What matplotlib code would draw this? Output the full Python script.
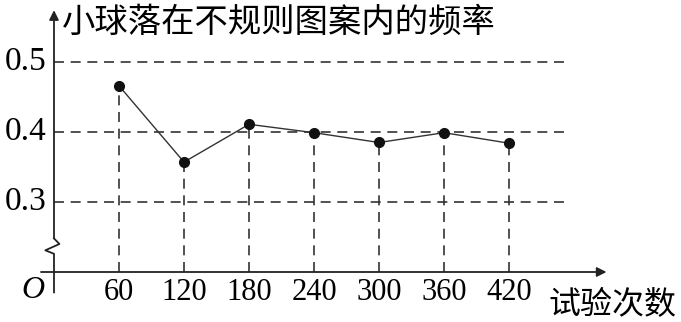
import matplotlib.pyplot as plt

# data
trials = [60, 120, 180, 240, 300, 360, 420]
freq = [0.466, 0.357, 0.411, 0.399, 0.385, 0.399, 0.384]
yticks = [0.3, 0.4, 0.5]
ytick_labels = ["0.3", "0.4", "0.5"]

cjk = ['Noto Sans CJK SC', 'DejaVu Sans']
serif = 'Liberation Serif'

fig = plt.figure(figsize=(6.81, 3.22), dpi=100)
ax = fig.add_axes([0, 0, 1, 1])
ax.axis('off')
# pixel mapping: x=0 at px 54, 60 per 65 px; y=0.5 at px 62, 0.1 per 70 px
ax.set_xlim(-54 * 60 / 65, (681 - 54) * 60 / 65)
ax.set_ylim(0.5 - (322 - 62) / 700, 0.5 + 62 / 700)

y0 = 0.2  # where the x axis sits (broken axis)
xend = 476

# dashed grid lines
for y in yticks:
    ax.plot([0, xend], [y, y], color='#333333', lw=1.2, ls=(0, (6, 4)))
for x, y in zip(trials, freq):
    ax.plot([x, x], [y0, y], color='#333333', lw=1.2, ls=(0, (6, 4)))

# axes with arrows
ax.annotate('', xy=(510, y0), xytext=(-12, y0),
            arrowprops=dict(arrowstyle='-|>', color='#222222', lw=1.3,
                            mutation_scale=14, shrinkA=0, shrinkB=0))
ax.annotate('', xy=(0, 0.574), xytext=(0, 0.248),
            arrowprops=dict(arrowstyle='-|>', color='#222222', lw=1.3,
                            mutation_scale=14, shrinkA=0, shrinkB=0))
# break symbol
zx = [0, 5, -8, 0, 0]
zy = [0.248, 0.240, 0.231, 0.226, 0.171]
ax.plot(zx, zy, color='#222222', lw=1.3)

# data
ax.plot(trials, freq, color='#333333', lw=1.0, zorder=3)
ax.plot(trials, freq, 'o', color='#111111', ms=7, zorder=4)

# tick labels
for y, lab in zip(yticks, ytick_labels):
    ax.text(-7, y, lab, ha='right', va='center', fontsize=24, family=serif)
for x in trials:
    ax.text(x, 0.17, str(x), ha='center', va='center', fontsize=22, family=serif)
ax.text(-9, 0.173, 'O', ha='right', va='center', fontsize=23, family=serif, style='italic')

ax.text(7, 0.556, '小球落在不规则图案内的频率', ha='left', va='center', fontsize=24,
        family=cjk)
ax.text(575, 0.153, '试验次数', ha='right', va='center', fontsize=23, family=cjk)

fig.savefig('out.png', dpi=100)
